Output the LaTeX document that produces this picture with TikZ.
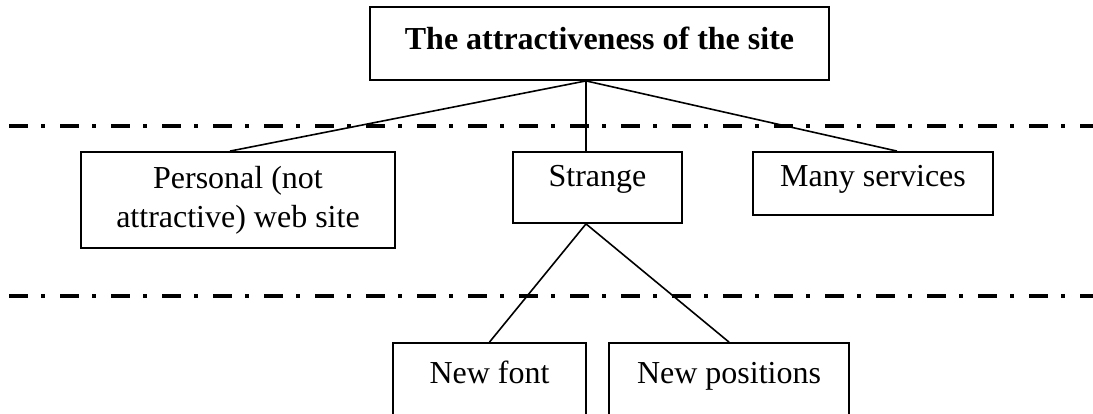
\documentclass[tikz,border=0pt]{standalone}
\usepackage{fontspec}
\setmainfont{Liberation Serif}
\begin{document}
\begin{tikzpicture}[x=1pt,y=-1pt,
  box/.style={draw, line width=1.8pt, inner xsep=0pt, inner ysep=0pt,
    font=\fontsize{32}{39}\selectfont, align=center},
  link/.style={line width=1.6pt},
  divider/.style={line width=4.5pt, dash pattern=on 19pt off 13pt on 4pt off 15pt}]
\useasboundingbox (0,0) rectangle (1093,414);
\clip (0,0) rectangle (1093,414);

% level separators
\draw[divider] (9,126) -- (1100,126);
\draw[divider] (9,296) -- (1100,296);

% root
\node[box, minimum width=459pt, text height=43pt, text depth=30pt, anchor=base,
  font=\fontsize{32}{39}\selectfont\bfseries] (title) at (599.5,50)
  {The attractiveness of the site};

% first level
\node[box, minimum width=314pt, minimum height=96pt] (personal) at (238,200)
  {Personal (not\\attractive) web site};
\node[box, minimum width=169pt, text height=35pt, text depth=36pt, anchor=base]
  (strange) at (597.5,187) {Strange};
\node[box, minimum width=240pt, text height=35pt, text depth=28pt, anchor=base]
  (many) at (873,187) {Many services};

% second level
\node[box, minimum width=193pt, text height=40pt, text depth=70pt, anchor=base]
  (newfont) at (489.5,383) {New font};
\node[box, minimum width=240pt, text height=40pt, text depth=70pt, anchor=base]
  (newpos) at (729,383) {New positions};

% connectors
\coordinate (hub) at ([xshift=-13.5pt]title.south);
\draw[link] (hub) -- ([xshift=-8pt]personal.north);
\draw[link] (hub) -- ([xshift=-11.5pt]strange.north);
\draw[link] (hub) -- ([xshift=24pt]many.north);
\coordinate (fork) at ([xshift=-11.5pt]strange.south);
\draw[link] (fork) -- (newfont.north);
\draw[link] (fork) -- (newpos.north);
\end{tikzpicture}
\end{document}
